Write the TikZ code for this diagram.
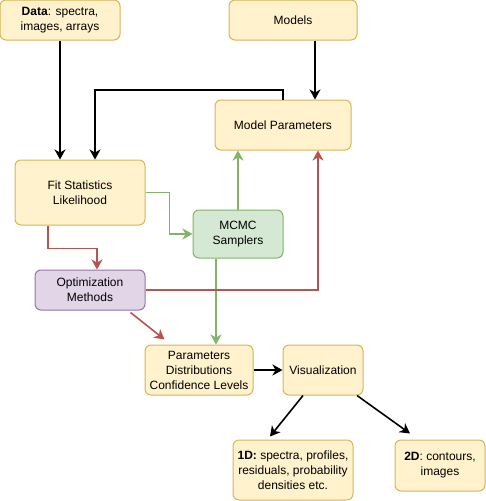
\documentclass[tikz,border=0pt]{standalone}
\usepackage{fontspec}
\setmainfont{Liberation Sans}
\usetikzlibrary{arrows.meta}
\definecolor{yfill}{HTML}{FFF2CC}
\definecolor{ydraw}{HTML}{D6B656}
\definecolor{gfill}{HTML}{D5E8D4}
\definecolor{gdraw}{HTML}{82B366}
\definecolor{pfill}{HTML}{E1D5E7}
\definecolor{pdraw}{HTML}{9673A6}
\definecolor{rline}{HTML}{B85450}
\begin{document}
\begin{tikzpicture}[x=1pt,y=-1pt,
  box/.style={draw=ydraw,fill=yfill,rounded corners=6pt,line width=1pt,inner sep=0pt,align=center,font=\fontsize{12}{15}\selectfont},
  gbox/.style={box,draw=gdraw,fill=gfill},
  pbox/.style={box,draw=pdraw,fill=pfill},
  conn/.style={line width=1.6pt,-{Stealth[length=10pt,width=11pt,inset=3pt]}},
  blk/.style={conn,draw=black},
  grn/.style={conn,draw=gdraw},
  red/.style={conn,draw=rline}]
\useasboundingbox (0,0) rectangle (486,501);
\node[box,minimum width=120pt,minimum height=40pt] (data) at (60,20) {\textbf{Data}: spectra,\\images, arrays};
\node[box,minimum width=128pt,minimum height=40pt] (models) at (293,20) {Models};
\node[box,minimum width=136pt,minimum height=50pt] (mp) at (283,125) {Model Parameters};
\node[box,minimum width=130pt,minimum height=65pt] (fit) at (80,192.5) {Fit Statistics\\Likelihood};
\node[gbox,minimum width=90pt,minimum height=48pt] (mcmc) at (238,234) {MCMC\\Samplers};
\node[pbox,minimum width=110pt,minimum height=40pt] (opt) at (90,290) {Optimization\\Methods};
\node[box,minimum width=108pt,minimum height=50pt] (par) at (199,370) {Parameters\\Distributions\\Confidence Levels};
\node[box,minimum width=80pt,minimum height=50pt] (vis) at (323,370) {Visualization};
\node[box,minimum width=120pt,minimum height=60pt] (oned) at (293,470) {\textbf{1D:} spectra, profiles,\\residuals, probability\\densities etc.};
\node[box,minimum width=90pt,minimum height=51pt] (twod) at (440,465.5) {\textbf{2D}: contours,\\images};
\coordinate (loop) at (95,90);
% black
\draw[blk] (data.south) -- (data.south |- fit.north);
\draw[blk] ([xshift=22pt]models.south) -- ([xshift=22pt]models.south |- mp.north);
\draw[blk] (mp.north) |- (loop) -- (loop |- fit.north);
\draw[blk] (par.east) -- (vis.west);
\draw[blk] ([xshift=-20pt]vis.south) -- ([xshift=-23pt,yshift=3pt]oned.north);
\draw[blk] ([xshift=34pt]vis.south) -- ([xshift=-30pt,yshift=6pt]twod.north);
% green
\draw[grn] (fit.east) -- ++(24,0) |- (mcmc.west);
\draw[grn] (mcmc.north) -- (mcmc.north |- mp.south);
\draw[grn] ([xshift=-22pt]mcmc.south) -- ([xshift=-22pt]mcmc.south |- par.north);
% red
\draw[red] ([xshift=-32pt]fit.south) -- ++(0,23) -| ([xshift=7pt]opt.north);
\draw[red] (opt.east) -| ([xshift=35pt]mp.south);
\draw[red] ([xshift=-15pt,yshift=-2pt]opt.south east) -- ([xshift=20pt,yshift=5pt]par.north west);
\end{tikzpicture}
\end{document}
